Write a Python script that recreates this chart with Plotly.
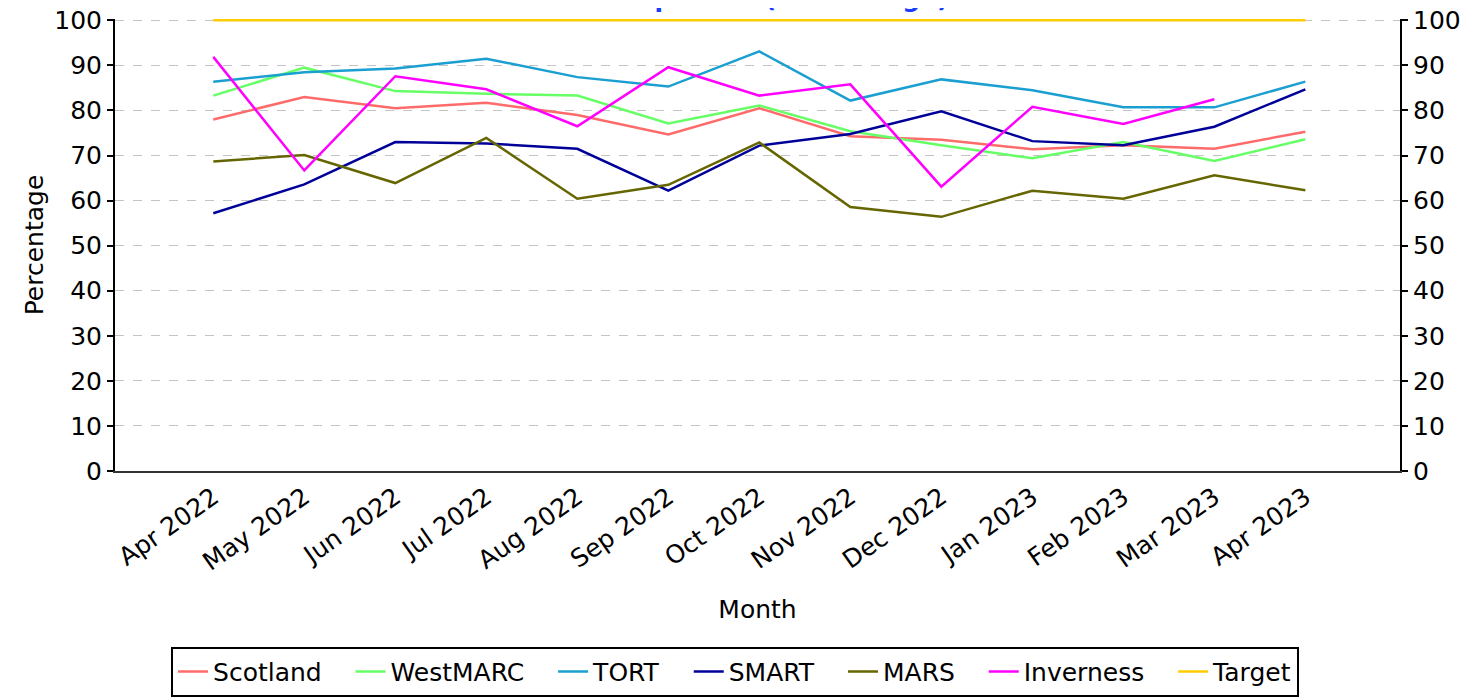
import plotly.graph_objects as go

months = ["Apr 2022", "May 2022", "Jun 2022", "Jul 2022", "Aug 2022", "Sep 2022",
          "Oct 2022", "Nov 2022", "Dec 2022", "Jan 2023", "Feb 2023", "Mar 2023", "Apr 2023"]

scotland = [78.0, 83.0, 80.5, 81.7, 79.0, 74.7, 80.5, 74.3, 73.5, 71.4, 72.3, 71.5, 75.3]
westmarc = [83.3, 89.5, 84.3, 83.7, 83.3, 77.1, 81.1, 75.4, 72.3, 69.4, 73.0, 68.8, 73.6]
tort = [86.4, 88.5, 89.3, 91.5, 87.4, 85.3, 93.1, 82.2, 86.9, 84.5, 80.7, 80.7, 86.4]
smart = [57.2, 63.6, 73.0, 72.7, 71.5, 62.2, 72.2, 74.8, 79.8, 73.2, 72.3, 76.4, 84.7]
mars = [68.7, 70.1, 63.9, 73.9, 60.4, 63.5, 72.9, 58.6, 56.4, 62.2, 60.4, 65.6, 62.3]
inverness = [91.9, 66.7, 87.6, 84.7, 76.5, 89.6, 83.3, 85.8, 63.1, 80.8, 77.0, 82.5, None]
target = [100] * 13

series_names = ["Scotland", "WestMARC", "TORT", "SMART", "MARS", "Inverness", "Target"]
series_values = [scotland, westmarc, tort, smart, mars, inverness, target]
colors = ["#ff6b6b", "#66ff66", "#1a9fd0", "#000099", "#666600", "#ff00ff", "#ffcc00"]

font = "DejaVu Sans"
FS = 25
PAD = "\u00a0\u00a0\u00a0"
fig = go.Figure()
n = len(series_names)
for i, (name, vals, col) in enumerate(zip(series_names, series_values, colors)):
    label = name + (PAD if i < n - 1 else "")
    fig.add_trace(go.Scatter(x=months, y=vals, name=label, mode="lines",
                             line=dict(color=col, width=2.5), connectgaps=False))

# invisible trace for the right-hand axis
fig.add_trace(go.Scatter(x=months, y=target, yaxis="y2", mode="lines",
                         line=dict(width=0), showlegend=False, hoverinfo="skip"))

YR = [0, 100.3]
fig.update_layout(
    width=1483, height=697,
    paper_bgcolor="white", plot_bgcolor="white",
    margin=dict(l=107, r=91, t=11, b=234, autoexpand=False),
    font=dict(family=font, size=FS, color="black"),
    xaxis=dict(
        type="category", range=[-1.08, 13.04], automargin=False,
        showgrid=False, showline=True, linecolor="#333333", linewidth=2,
        ticks="", tickangle=-35, tickfont=dict(size=FS),
        title=dict(text="Month", font=dict(size=FS), standoff=25),
        zeroline=False,
    ),
    yaxis=dict(
        range=YR, tickvals=list(range(0, 101, 10)), showgrid=True, gridcolor="#c4c4c4",
        griddash="dash", gridwidth=1, automargin=False, ticklabeloverflow="allow",
        showline=True, linecolor="black", linewidth=2,
        ticks="outside", ticklen=6, tickwidth=2, tickcolor="black",
        title=dict(text="Percentage", font=dict(size=FS), standoff=4),
        zeroline=False,
    ),
    yaxis2=dict(
        range=YR, tickvals=list(range(0, 101, 10)), overlaying="y", side="right",
        automargin=False, ticklabeloverflow="allow",
        showgrid=False, showline=True, linecolor="black", linewidth=2,
        ticks="outside", ticklen=6, tickwidth=2, tickcolor="black",
        zeroline=False,
    ),
    legend=dict(
        orientation="h", x=0.4825, xanchor="center", y=-0.389, yanchor="top",
        bordercolor="black", borderwidth=2, font=dict(size=FS),
        itemwidth=30, tracegroupgap=0,
    ),
    showlegend=True,
)

fig.add_annotation(
    text="<b>Compliance (Percentage)</b>", xref="paper", yref="paper",
    x=0.51, y=1.0, yshift=4, xanchor="center", yanchor="bottom",
    showarrow=False, font=dict(family=font, size=FS, color="#1a3cff"),
)

fig.write_html("out.html")
